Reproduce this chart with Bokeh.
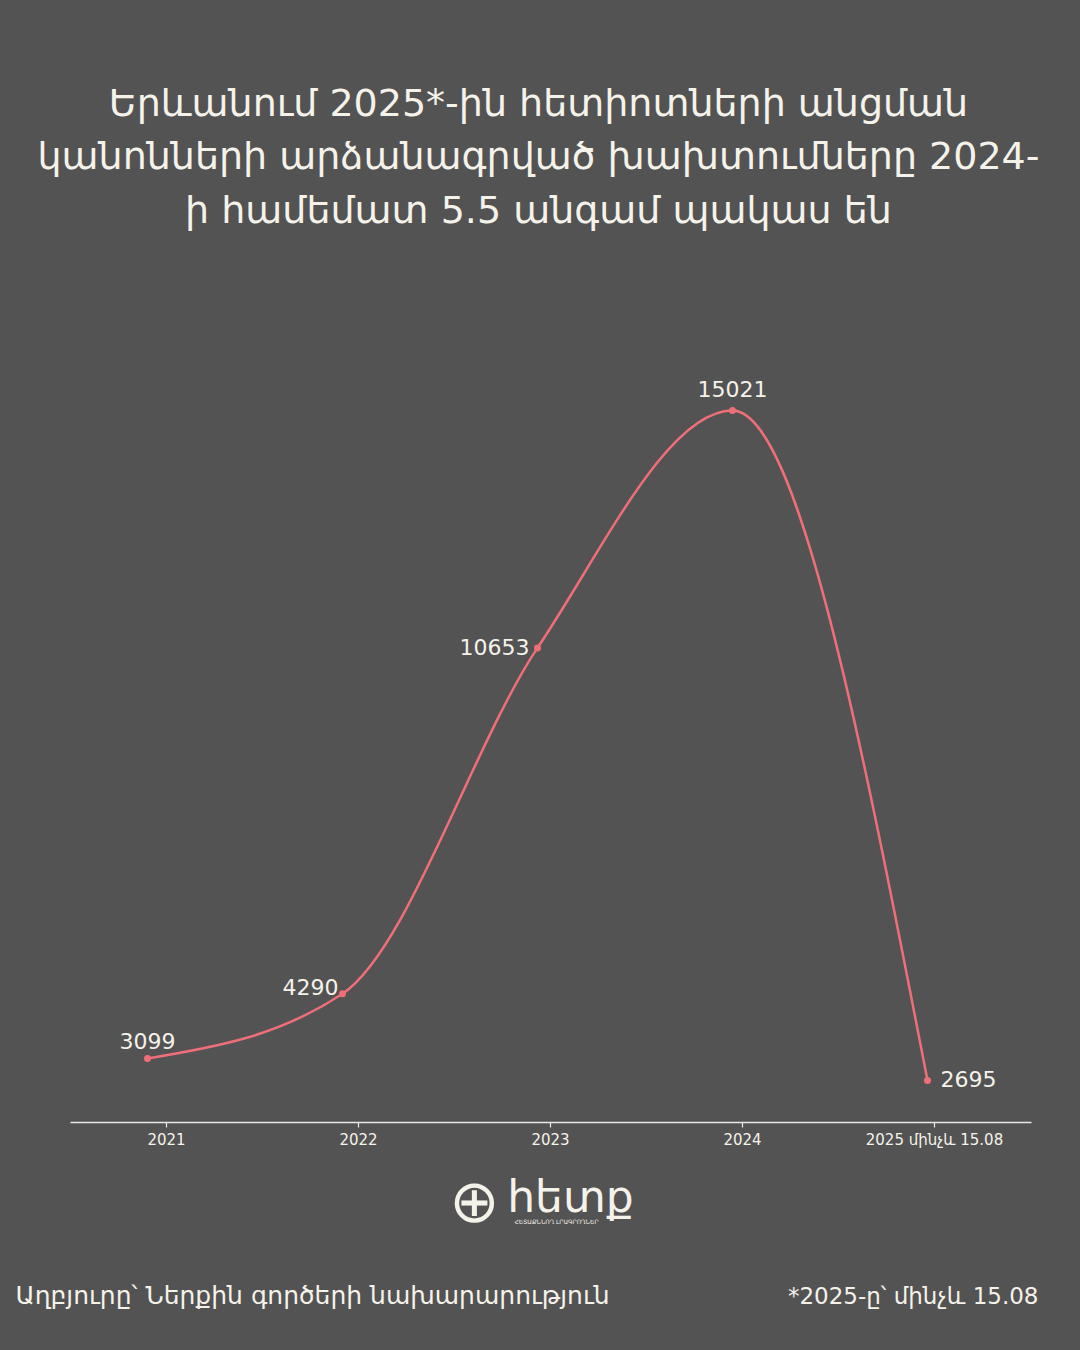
import numpy as np
from bokeh.plotting import figure
from bokeh.models import (Range1d, LinearAxis, FixedTicker, ColumnDataSource,
                          GlobalInlineStyleSheet)
from bokeh.core.properties import value
from bokeh.embed import file_html
from bokeh.resources import INLINE

# ---------------- data ----------------
years = ["2021", "2022", "2023", "2024", "2025 մինչև 15.08"]
violations = [3099, 4290, 10653, 15021, 2695]

title_lines = [
    "Երևանում 2025*-ին հետիոտների անցման",
    "կանոնների արձանագրված խախտումները 2024-",
    "ի համեմատ 5.5 անգամ պակաս են",
]
source_text = "Աղբյուրը՝ Ներքին գործերի նախարարություն"
note_text = "*2025-ը՝ մինչև 15.08"
logo_text = "հետք"
logo_sub = "ՀԵՏԱՔՆՆՈՂ ԼՐԱԳՐՈՂՆԵՐ"

# ---------------- style ----------------
BG = "#535353"
TXT = "#f5f2ea"
LINE = "#ef6f78"
FONT = "DejaVu Sans"

W, H = 1064, 1334
# frame covers the whole canvas; ranges chosen so the plot area sits at 70..1031 x, baseline y=1122
p = figure(width=W, height=H, output_backend="svg", toolbar_location=None,
           x_axis_type=None, y_axis_type=None,
           x_range=Range1d(-166 / 192, (W - 166) / 192),
           y_range=Range1d((1226.49 - H) / 0.054357, 1226.49 / 0.054357),
           min_border=0)
p.extra_x_ranges = {"pts": Range1d(-147 / 195, (W - 147) / 195), "px": Range1d(0, W)}
p.extra_y_ranges = {"py": Range1d(H, 0)}
p.background_fill_color = BG
p.border_fill_color = BG
p.outline_line_color = None
p.grid.visible = False
p.stylesheets = [GlobalInlineStyleSheet(css="html, body { background-color: #535353; }")]

# axis (drawn at the baseline, spanning the plot area)
baseline = (1226.49 - 1122) / 0.054357
ax = LinearAxis(ticker=FixedTicker(ticks=list(range(len(years)))),
                major_label_overrides={i: y for i, y in enumerate(years)},
                fixed_location=baseline, bounds=(-0.5, 4.505))
ax.axis_line_color = "#e8e8e8"
ax.axis_line_width = 1.5
ax.major_tick_line_color = "#e8e8e8"
ax.major_tick_line_width = 1.2
ax.major_tick_in = 0
ax.major_tick_out = 5
ax.minor_tick_line_color = None
ax.major_label_text_color = TXT
ax.major_label_text_font = FONT
ax.major_label_text_font_size = "15px"
ax.major_label_standoff = 3
p.add_layout(ax, "below")

# monotone cubic (d3 curveMonotoneX) through the data
xs = np.arange(len(violations), dtype=float)
ys = np.array(violations, dtype=float)
n = len(xs)
h = np.diff(xs)
s = np.diff(ys) / h
t = np.zeros(n)
sg = lambda v: -1.0 if v < 0 else 1.0
for i in range(1, n - 1):
    pp = (s[i - 1] * h[i] + s[i] * h[i - 1]) / (h[i - 1] + h[i])
    t[i] = (sg(s[i - 1]) + sg(s[i])) * min(abs(s[i - 1]), abs(s[i]), 0.5 * abs(pp))
t[0] = (3 * s[0] - t[1]) / 2
t[-1] = (3 * s[-1] - t[-2]) / 2

bez = ColumnDataSource(dict(
    x0=xs[:-1], y0=ys[:-1], x1=xs[1:], y1=ys[1:],
    cx0=xs[:-1] + h / 3, cy0=ys[:-1] + h / 3 * t[:-1],
    cx1=xs[1:] - h / 3, cy1=ys[1:] - h / 3 * t[1:],
))
p.bezier(x0="x0", y0="y0", x1="x1", y1="y1", cx0="cx0", cy0="cy0", cx1="cx1", cy1="cy1",
         source=bez, line_color=LINE, line_width=2.5, x_range_name="pts")

pts = ColumnDataSource(dict(
    x=xs, y=ys, label=[str(v) for v in violations],
    align=["center", "right", "right", "center", "left"],
    dx=[0, -4, -8, 0, 13],
    dy=[-18, -7, -1, -21, -1],
))
p.scatter("x", "y", source=pts, size=7, fill_color=LINE, line_color=None, x_range_name="pts")
p.text("x", "y", text="label", source=pts, x_range_name="pts",
       x_offset="dx", y_offset="dy", text_align="align", text_baseline="middle",
       text_color=TXT, text_font=value(FONT), text_font_size="22px")

# ---- page texts in pixel coordinates ----
def lab(txt, rx, ry, size, align="center", color=TXT):
    p.text(x=[rx], y=[ry], text=[txt], x_range_name="px", y_range_name="py",
           text_align=align, text_baseline="middle", text_color=color,
           text_font=value(FONT), text_font_size=size)

for line, ry in zip(title_lines, [102, 155, 209]):
    lab(line, 538, ry, "38px")

lab("⊕", 474, 1200, "60px")
lab(logo_text, 570, 1196, "44px")
lab(logo_sub, 556, 1221, "6px")

lab(source_text, 15, 1295, "25px", align="left")
lab(note_text, 1038, 1295, "23px", align="right")

open("out.html", "w").write(file_html(p, INLINE))
